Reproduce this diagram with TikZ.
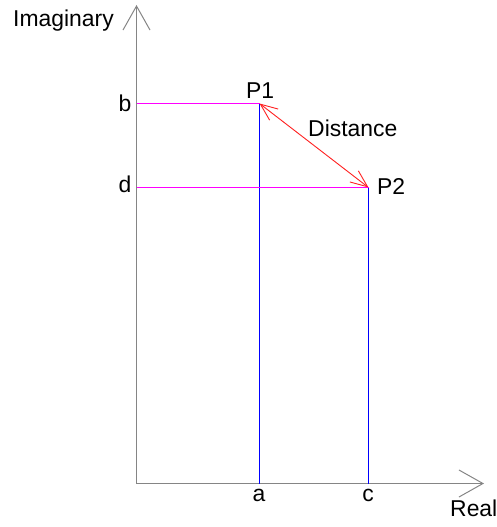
\documentclass[tikz,border=0pt]{standalone}
\usepackage{fontspec}
\setmainfont{Liberation Sans}
\usetikzlibrary{arrows.meta,positioning}
\definecolor{axisgray}{HTML}{858585}
\definecolor{projpink}{HTML}{FF00FF}
\definecolor{projblue}{HTML}{0000FF}
\definecolor{distred}{HTML}{FF2020}
\tikzset{
  axisline/.style={
    draw=axisgray, line width=1.4bp,
    -{Straight Barb[length=24bp,width=27bp,line width=1bp]}
  },
  hproj/.style={draw=projpink, line width=1bp},
  vproj/.style={draw=projblue, line width=1bp},
  distarrow/.style={
    draw=distred, line width=0.9bp,
    {Straight Barb[length=17bp,width=14bp]}-{Straight Barb[length=17bp,width=14bp]}
  },
  lbl/.style={
    font=\fontsize{23}{27}\selectfont, inner sep=0pt, text=black
  },
}

\begin{document}
\begin{tikzpicture}[x=1bp, y=-1bp]
    \useasboundingbox (0,0) rectangle (497,527);
    % axes
    \coordinate (O) at (136.5,483.5);
    \coordinate (imtip) at (136.5,5);
    \coordinate (retip) at (484,483.5);
    \draw[axisline] (O) -- (imtip);
    \draw[axisline] (O) -- (retip);
    % the two points and their projections
    \coordinate (P1) at (259.5,103.5);
    \coordinate (P2) at (368.5,187.5);
    \coordinate (bpt) at (O |- P1);
    \coordinate (dpt) at (O |- P2);
    \coordinate (apt) at (P1 |- O);
    \coordinate (cpt) at (P2 |- O);
    \draw[vproj] (P1) -- (apt);
    \draw[vproj] (P2) -- (cpt);
    \draw[hproj] (bpt) -- (P1);
    \draw[hproj] (dpt) -- (P2);
    \draw[distarrow] (P1) -- (P2);
    % labels
    \node[lbl, anchor=base west] (imaglbl) at (13,27) {Imaginary};
    \node[lbl, anchor=base west] (reallbl) at (450,516) {Real};
    \node[lbl, anchor=base] (blbl) at (125,112) {b};
    \node[lbl, anchor=base] (dlbl) at (125,193) {d};
    \node[lbl, anchor=base] (albl) at (259,501) {a};
    \node[lbl, anchor=base] (clbl) at (368,501) {c};
    \node[lbl, anchor=base west] (p1lbl) at (246,99) {P1};
    \node[lbl, anchor=base west] (p2lbl) at (377,195) {P2};
    \node[lbl, anchor=base west] (distlbl) at (308,137) {Distance};
\end{tikzpicture}
\end{document}
